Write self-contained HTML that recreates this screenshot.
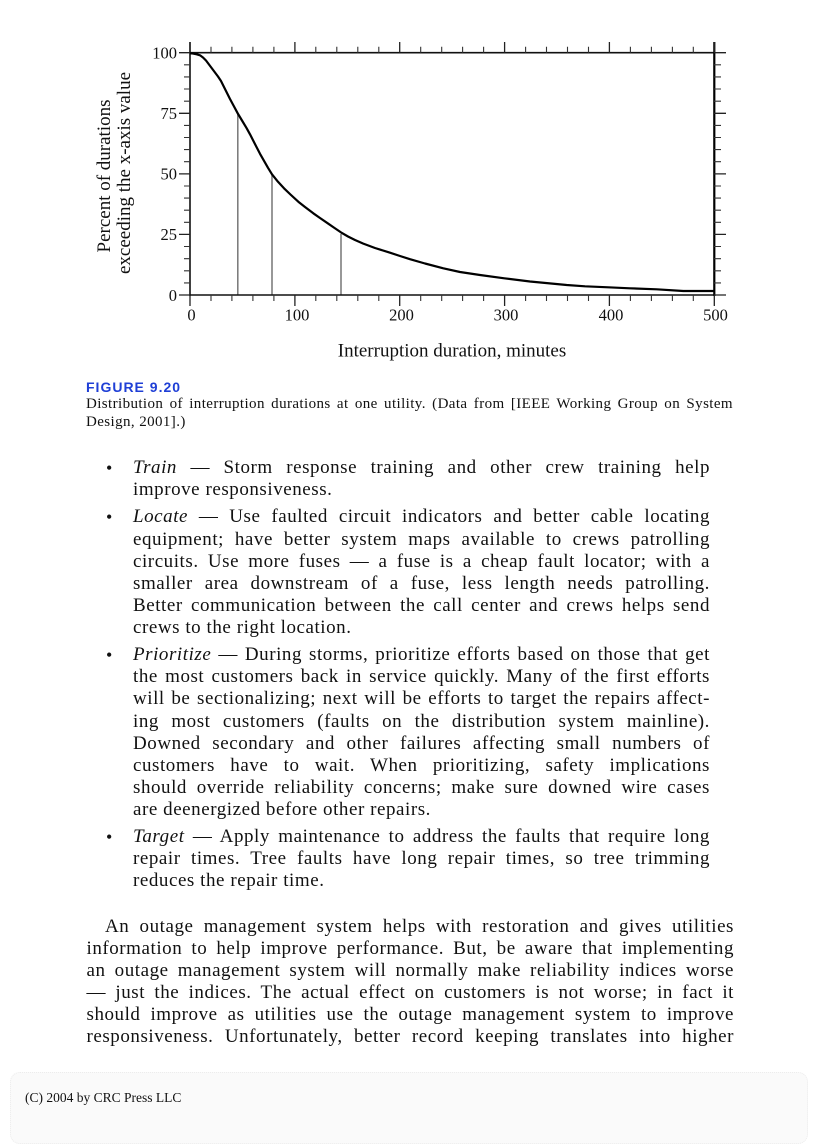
<!DOCTYPE html>
<html>
<head>
<meta charset="utf-8">
<style>
html,body{margin:0;padding:0;background:#fff;}
body{width:816px;height:1123px;position:relative;overflow:hidden;}
.l{position:absolute;font-family:"Liberation Serif",serif;font-size:19px;letter-spacing:0.55px;line-height:22px;color:#111;text-align:justify;text-align-last:justify;margin:0;}
.b{left:133px;width:577px;}
.p{left:86.5px;width:647.5px;}
.bul{position:absolute;left:106px;font-family:"Liberation Serif",serif;font-size:18px;line-height:22px;color:#111;}
.cap{position:absolute;left:86px;font-family:"Liberation Serif",serif;font-size:15px;letter-spacing:0.4px;line-height:18px;color:#111;}
.fig{position:absolute;left:86px;top:379px;font-family:"Liberation Sans",sans-serif;font-weight:bold;font-size:14px;line-height:16px;letter-spacing:1px;color:#1f3fd6;}
.foot{position:absolute;left:25px;top:1090px;font-family:"Liberation Serif",serif;font-size:13.5px;line-height:16px;color:#111;}
.fbox{position:absolute;left:10px;top:1072px;width:796px;height:70px;border:1px dotted #ececec;border-radius:10px;background:#fafafa;}
svg{position:absolute;left:0;top:0;}
</style>
</head>
<body>

<svg width="816" height="380" viewBox="0 0 816 380" xmlns="http://www.w3.org/2000/svg">
  <path d="M237.8 113.3V295M272 174.3V295M341 234V295" stroke="#777" stroke-width="1.5" fill="none"/>
  <path d="M190 52.7H714.3M190 295H714.3" stroke="#111" stroke-width="1.6" fill="none"/>
  <path d="M190 42V296" stroke="#111" stroke-width="1.6" fill="none"/>
  <path d="M714.3 42V296" stroke="#000" stroke-width="2.2" fill="none"/>
  <path d="M179 295H190M179 234.4H190M179 173.9H190M179 113.3H190M179 52.7H190
           M714 295H726M714 234.4H726M714 173.9H726M714 113.3H726M714 52.7H726
           M190 52.7V42M294.9 52.7V42M399.7 52.7V42M504.6 52.7V42M609.4 52.7V42M714.3 52.7V42
           M190 295V306M294.9 295V306M399.7 295V306M504.6 295V306M609.4 295V306M714.3 295V306"
        stroke="#222" stroke-width="1.3" fill="none"/>
  <path d="M184 282.9h6M184 270.8h6M184 258.7h6M184 246.5h6M184 222.3h6M184 210.2h6M184 198.1h6M184 186h6M184 161.7h6M184 149.6h6M184 137.5h6M184 125.4h6M184 101.2h6M184 89h6M184 76.9h6M184 64.8h6
           M714 282.9h7M714 270.8h7M714 258.7h7M714 246.5h7M714 222.3h7M714 210.2h7M714 198.1h7M714 186h7M714 161.7h7M714 149.6h7M714 137.5h7M714 125.4h7M714 101.2h7M714 89h7M714 76.9h7M714 64.8h7
           M211 52.7v-6M231.9 52.7v-6M252.9 52.7v-6M273.9 52.7v-6M315.8 52.7v-6M336.8 52.7v-6M357.8 52.7v-6M378.8 52.7v-6M420.7 52.7v-6M441.7 52.7v-6M462.6 52.7v-6M483.6 52.7v-6M525.6 52.7v-6M546.5 52.7v-6M567.5 52.7v-6M588.5 52.7v-6M630.4 52.7v-6M651.4 52.7v-6M672.4 52.7v-6M693.3 52.7v-6
           M211 295v6M231.9 295v6M252.9 295v6M273.9 295v6M315.8 295v6M336.8 295v6M357.8 295v6M378.8 295v6M420.7 295v6M441.7 295v6M462.6 295v6M483.6 295v6M525.6 295v6M546.5 295v6M567.5 295v6M588.5 295v6M630.4 295v6M651.4 295v6M672.4 295v6M693.3 295v6"
        stroke="#333" stroke-width="1.1" fill="none"/>
  <polyline fill="none" stroke="#000" stroke-width="2.2" stroke-linejoin="round" points="
190,53.3 193,53.5 196.7,54.3 200,55.3 203,57.5 206,60.5 209,64.5 212,68.5 215,72.5 218,76.5 221,81 224,87 227,93 230,99 233.5,105.5 237.7,113.3 242,120.5 246.7,128.3 250,134.3 253.3,140.8 256.5,147 260,153.8 264,160.8 268,167.8 272,174.3 278,181.8 284,188.3 291,195 298.3,201.7 305,207 313.3,213.3 320,218 328.3,223.7 334,227.6 341,232.4 348,236.5 355,240 363.3,243.6 375,248 390,252.7 400,256 410,259.2 425,263.5 443.3,268.3 460,272 480,275 504.3,278.3 530,281.5 566.7,285 585,286.3 608.3,287.3 630,288.3 656.7,289.3 683.3,291 714.3,291"/>
  <g font-family="Liberation Serif, serif" font-size="16.5" fill="#111" text-anchor="end">
    <text x="177" y="58.5">100</text>
    <text x="177" y="119.1">75</text>
    <text x="177" y="179.7">50</text>
    <text x="177" y="240.2">25</text>
    <text x="177" y="300.8">0</text>
  </g>
  <g font-family="Liberation Serif, serif" font-size="16.5" fill="#111" text-anchor="middle">
    <text x="191.5" y="320.5">0</text>
    <text x="297" y="320.5">100</text>
    <text x="401.5" y="320.5">200</text>
    <text x="506" y="320.5">300</text>
    <text x="611" y="320.5">400</text>
    <text x="715.5" y="320.5">500</text>
  </g>
  <text x="452" y="356.7" font-family="Liberation Serif, serif" font-size="19" fill="#111" text-anchor="middle">Interruption duration, minutes</text>
  <text transform="translate(110,176) rotate(-90)" font-family="Liberation Serif, serif" font-size="19" fill="#111" text-anchor="middle">Percent of durations</text>
  <text transform="translate(130,173) rotate(-90)" font-family="Liberation Serif, serif" font-size="19" fill="#111" text-anchor="middle">exceeding the x-axis value</text>
</svg>

<div class="fig">FIGURE 9.20</div>
<div class="cap" style="top:395.2px;width:647px;text-align:justify;text-align-last:justify;">Distribution of interruption durations at one utility. (Data from [IEEE Working Group on System</div>
<div class="cap" style="top:413px;">Design, 2001].)</div>

<div class="bul" style="top:457px;">•</div>
<div class="l b" style="top:457px;"><i>Train</i> — Storm response training and other crew training help</div>
<div class="l b" style="top:479.1px;text-align-last:left;">improve responsiveness.</div>

<div class="bul" style="top:506.4px;">•</div>
<div class="l b" style="top:506.4px;"><i>Locate</i> — Use faulted circuit indicators and better cable locating</div>
<div class="l b" style="top:528.5px;">equipment; have better system maps available to crews patrolling</div>
<div class="l b" style="top:550.6px;">circuits. Use more fuses — a fuse is a cheap fault locator; with a</div>
<div class="l b" style="top:572.7px;">smaller area downstream of a fuse, less length needs patrolling.</div>
<div class="l b" style="top:594.8px;">Better communication between the call center and crews helps send</div>
<div class="l b" style="top:616.9px;text-align-last:left;">crews to the right location.</div>

<div class="bul" style="top:644.2px;">•</div>
<div class="l b" style="top:644.2px;"><i>Prioritize</i> — During storms, prioritize efforts based on those that get</div>
<div class="l b" style="top:666.3px;">the most customers back in service quickly. Many of the first efforts</div>
<div class="l b" style="top:688.4px;">will be sectionalizing; next will be efforts to target the repairs affect-</div>
<div class="l b" style="top:710.5px;">ing most customers (faults on the distribution system mainline).</div>
<div class="l b" style="top:732.6px;">Downed secondary and other failures affecting small numbers of</div>
<div class="l b" style="top:754.7px;">customers have to wait. When prioritizing, safety implications</div>
<div class="l b" style="top:776.8px;">should override reliability concerns; make sure downed wire cases</div>
<div class="l b" style="top:798.9px;text-align-last:left;">are deenergized before other repairs.</div>

<div class="bul" style="top:826.2px;">•</div>
<div class="l b" style="top:826.2px;"><i>Target</i> — Apply maintenance to address the faults that require long</div>
<div class="l b" style="top:848.3px;">repair times. Tree faults have long repair times, so tree trimming</div>
<div class="l b" style="top:870.4px;text-align-last:left;">reduces the repair time.</div>

<div class="l" style="left:105px;width:629px;top:915.8px;">An outage management system helps with restoration and gives utilities</div>
<div class="l p" style="top:937.9px;">information to help improve performance. But, be aware that implementing</div>
<div class="l p" style="top:960px;">an outage management system will normally make reliability indices worse</div>
<div class="l p" style="top:982.1px;">— just the indices. The actual effect on customers is not worse; in fact it</div>
<div class="l p" style="top:1004.2px;">should improve as utilities use the outage management system to improve</div>
<div class="l p" style="top:1026.3px;">responsiveness. Unfortunately, better record keeping translates into higher</div>

<div class="fbox"></div>
<div class="foot">(C) 2004 by CRC Press LLC</div>

</body>
</html>
